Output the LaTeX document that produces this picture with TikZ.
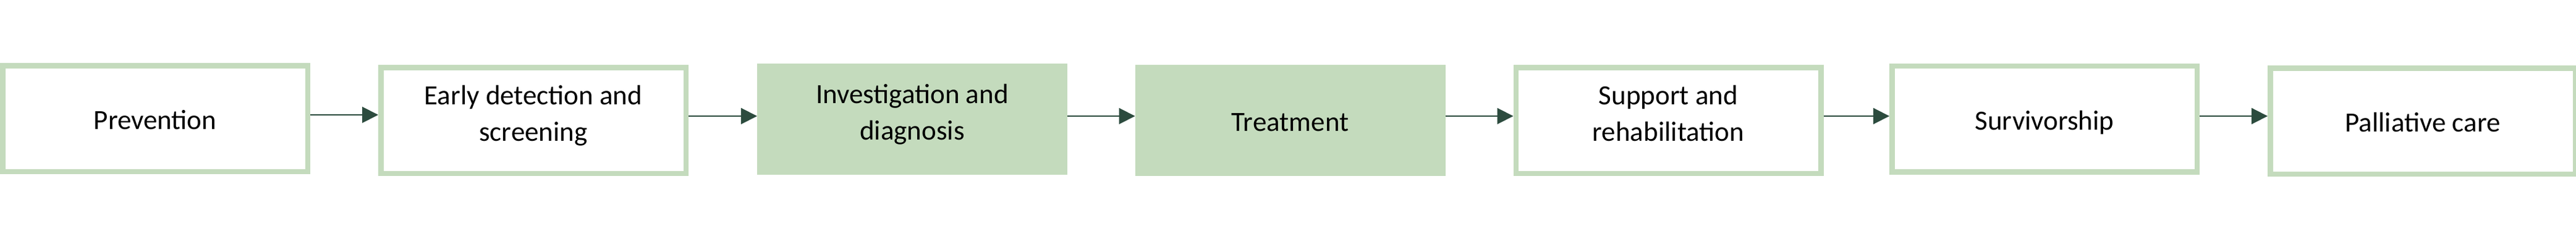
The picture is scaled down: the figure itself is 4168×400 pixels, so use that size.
\documentclass[tikz,border=0pt]{standalone}
\usepackage{fontspec}
\setmainfont{Carlito}
\usetikzlibrary{arrows.meta}
\definecolor{boxgreen}{HTML}{C4DBBD}
\definecolor{arrowgreen}{HTML}{2C4B3E}
\tikzset{
  stage/.style={draw=boxgreen, line width=4.25pt, fill=white, inner sep=0pt,
    minimum width=246.75pt, minimum height=85.75pt, align=center,
    font=\fontsize{22.5pt}{29.5pt}\selectfont, text=black,
    text height=17.5pt, text depth=0pt},
  twoline/.style={text height=47pt, text depth=13.5pt},
  stagefilled/.style={stage, fill=boxgreen},
  flowarrow/.style={draw=arrowgreen, line width=1pt, -{Triangle[length=13pt,width=13pt]}}
}
\begin{document}
\begin{tikzpicture}[x=0.5pt,y=-0.5pt]
\useasboundingbox (0,0) rectangle (4168,400);
\node[stage] (prev) at (251,192.5) {Prevention};
\node[stage,twoline] (early) at (863,195.5) {Early detection and\\screening};
\node[stagefilled,twoline] (inv) at (1476,193) {Investigation and\\diagnosis};
\node[stagefilled] (treat) at (2087.5,195.5) {Treatment};
\node[stage,twoline] (supp) at (2699.5,195.5) {Support and\\rehabilitation};
\node[stage] (surv) at (3308,193) {Survivorship};
\node[stage] (pall) at (3920,196.5) {Palliative care};
\draw[flowarrow] (prev.east |- 0,186) -- (early.west |- 0,186);
\draw[flowarrow] (early.east |- 0,188) -- (inv.west |- 0,188);
\draw[flowarrow] (inv.east |- 0,188) -- (treat.west |- 0,188);
\draw[flowarrow] (treat.east |- 0,188) -- (supp.west |- 0,188);
\draw[flowarrow] (supp.east |- 0,188) -- (surv.west |- 0,188);
\draw[flowarrow] (surv.east |- 0,188) -- (pall.west |- 0,188);
\end{tikzpicture}
\end{document}
